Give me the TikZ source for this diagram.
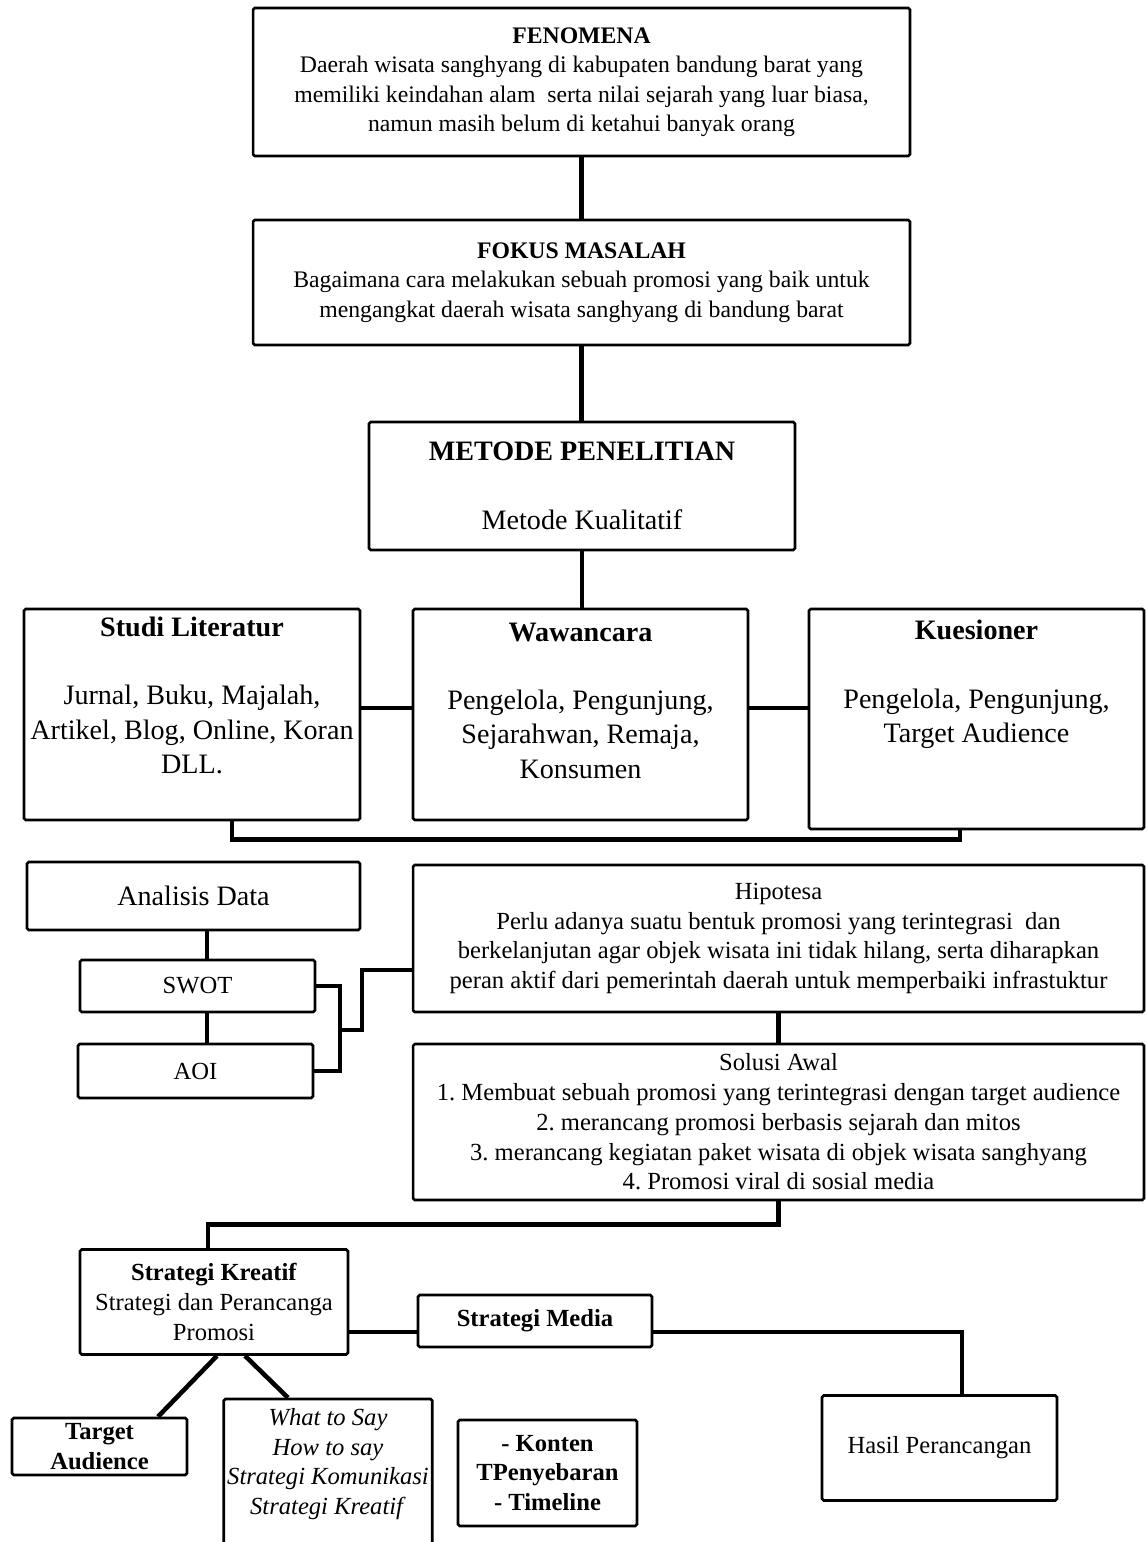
\documentclass[tikz,border=0pt]{standalone}
\usepackage{fontspec}
\setmainfont{Liberation Serif}
\usetikzlibrary{positioning}
\frenchspacing

\begin{document}
\begin{tikzpicture}[x=0.02cm,y=-0.02cm,
	box/.style={draw,line width=1.5pt,rounded corners=1pt,align=center,inner sep=2pt},
	txt/.style={font=\fontsize{13.5}{16.8}\selectfont},
	sml/.style={font=\fontsize{14}{16.9}\selectfont},
	big/.style={font=\fontsize{16}{19.5}\selectfont},
	link/.style={line width=2.6pt}]
	\useasboundingbox (0,0) rectangle (1146,1542);

	\node (fen) [box,txt,minimum width=13.14cm,minimum height=2.96cm] at (581.5,82)
		{\textbf{FENOMENA}\\Daerah wisata sanghyang di kabupaten bandung barat yang\\memiliki keindahan alam \ serta nilai sejarah yang luar biasa,\\namun masih belum di ketahui banyak orang};
	\node (fokus) [box,txt,minimum width=13.14cm,minimum height=2.5cm] at (581.5,282.5)
		{\textbf{FOKUS MASALAH}\\Bagaimana cara melakukan sebuah promosi yang baik untuk\\mengangkat daerah wisata sanghyang di bandung barat};
	\node (metode) [box,big,minimum width=8.52cm,minimum height=2.56cm] at (582,486)
		{\textbf{METODE PENELITIAN}\\[19.5pt]Metode Kualitatif};

	\node (studi) [box,big,minimum width=6.72cm,minimum height=4.22cm,text depth=22pt] at (192,714.5)
		{\textbf{Studi Literatur}\\[19.5pt]Jurnal, Buku, Majalah,\\Artikel, Blog, Online, Koran\\DLL.};
	\node (waw) [box,big,minimum width=6.7cm,minimum height=4.22cm,text depth=16pt] at (580.5,714.5)
		{\textbf{Wawancara}\\[19.5pt]Pengelola, Pengunjung,\\Sejarahwan, Remaja,\\Konsumen};
	\node (kues) [box,big,minimum width=6.7cm,minimum height=4.4cm,text depth=43pt] at (976.5,719)
		{\textbf{Kuesioner}\\[19.5pt]Pengelola, Pengunjung,\\Target Audience};

	\node (analisis) [box,big,minimum width=6.66cm,minimum height=1.36cm] at (193.5,896) {Analisis Data};
	\node (swot) [box,sml,minimum width=4.7cm,minimum height=1.04cm] at (197.5,986) {SWOT};
	\node (aoi) [box,sml,minimum width=4.7cm,minimum height=1.08cm] at (195.5,1071) {AOI};

	\node (hip) [box,sml,minimum width=14.62cm,minimum height=2.94cm] at (778.5,938.5)
		{Hipotesa\\Perlu adanya suatu bentuk promosi yang terintegrasi \ dan\\berkelanjutan agar objek wisata ini tidak hilang, serta diharapkan\\peran aktif dari pemerintah daerah untuk memperbaiki infrastuktur};
	\node (solusi) [box,sml,minimum width=14.62cm,minimum height=3.12cm] at (778.5,1122)
		{Solusi Awal\\1. Membuat sebuah promosi yang terintegrasi dengan target audience\\2. merancang promosi berbasis sejarah dan mitos\\3. merancang kegiatan paket wisata di objek wisata sanghyang\\4. Promosi viral di sosial media};

	\node (sk) [box,sml,minimum width=5.36cm,minimum height=2.1cm] at (214,1302)
		{\textbf{Strategi Kreatif}\\Strategi dan Perancanga\\Promosi};
	\node (sm) [box,sml,minimum width=4.68cm,minimum height=1.04cm] at (535,1321) {\textbf{Strategi Media}};
	\node (hasil) [box,sml,minimum width=4.7cm,minimum height=2.1cm] at (939.5,1448) {Hasil Perancangan};
	\node (ta) [box,sml,minimum width=3.5cm,minimum height=1.14cm,inner ysep=0pt] at (99.5,1446.5)
		{\textbf{Target}\\\textbf{Audience}};
	\node (wts) [box,sml,minimum width=4.04cm,minimum height=3.62cm,text depth=32pt] at (328,1489.5)
		{\textit{What to Say}\\\textit{How to say}\\\textit{Strategi Komunikasi}\\\textit{Strategi Kreatif}};
	\node (konten) [box,sml,minimum width=3.58cm,minimum height=2.12cm] at (547.5,1473)
		{\textbf{- Konten}\\\textbf{TPenyebaran}\\\textbf{- Timeline}};

	\draw[link] (fen) -- (fokus);
	\draw[link] (fokus.south) -- (fokus.south |- metode.north);
	\draw[link] (metode.south) -- (metode.south |- waw.north);
	\draw[link] ([yshift=0.13cm]studi.east) -- ([yshift=0.13cm]studi.east -| waw.west);
	\draw[link] ([yshift=0.13cm]waw.east) -- ([yshift=0.13cm]waw.east -| kues.west);
	\draw[link] ([xshift=0.8cm]studi.south) -- ++(0,18) -| ([xshift=-0.33cm]kues.south);

	\draw[link] ([xshift=0.27cm]analisis.south) -- ([xshift=0.27cm]analisis.south |- swot.north);
	\draw[link] ([xshift=0.19cm]swot.south) -- ([xshift=0.19cm]swot.south |- aoi.north);
	\coordinate (j) at (340,1030);
	\draw[link] (swot.east) -| (j) |- (aoi.east);
	\draw[link] (j) -- ++(22,0) |- ([yshift=-0.63cm]hip.west);
	\draw[link] (hip) -- (solusi);
	\draw[link] (solusi.south) -- ++(0,23) -| ([xshift=-0.12cm]sk.north);

	\draw[link] ([yshift=-0.6cm]sk.east) -- ([yshift=-0.6cm]sk.east -| sm.west);
	\draw[link] ([yshift=-0.22cm]sm.east) -| ([xshift=0.45cm]hasil.north);
	\draw[link] ([xshift=0.06cm]sk.south) -- ([xshift=1.17cm]ta.north);
	\draw[link] ([xshift=0.62cm]sk.south) -- ([xshift=-0.8cm]wts.north);
\end{tikzpicture}
\end{document}
